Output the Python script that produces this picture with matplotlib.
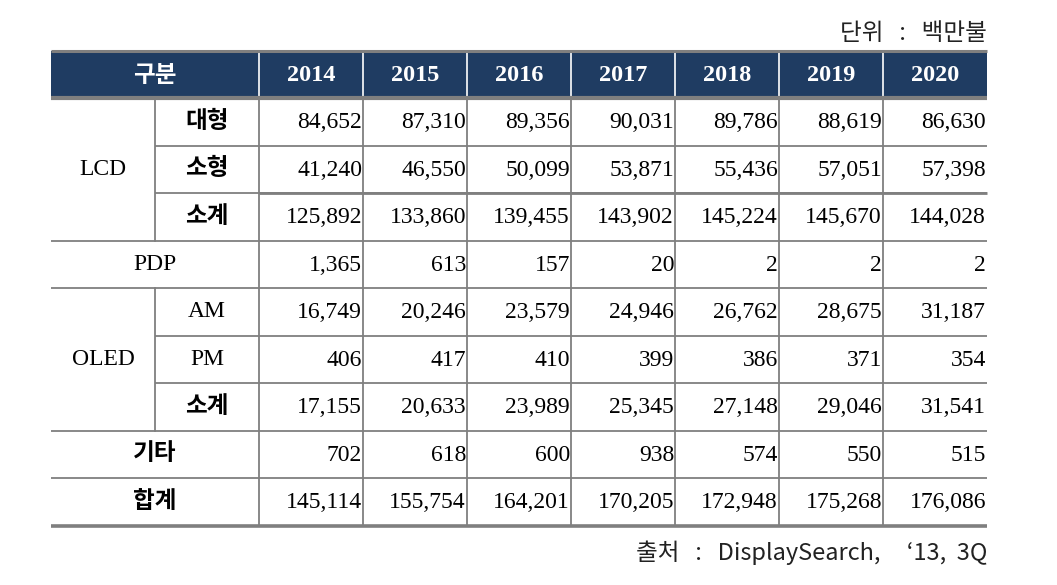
import matplotlib.pyplot as plt

plt.rcParams['font.family'] = ['Liberation Serif', 'Noto Sans CJK KR']

# data (단위: 백만불)
years = ['2014', '2015', '2016', '2017', '2018', '2019', '2020']
lcd_large = [84652, 87310, 89356, 90031, 89786, 88619, 86630]
lcd_small = [41240, 46550, 50099, 53871, 55436, 57051, 57398]
lcd_sub = [125892, 133860, 139455, 143902, 145224, 145670, 144028]
pdp = [1365, 613, 157, 20, 2, 2, 2]
oled_am = [16749, 20246, 23579, 24946, 26762, 28675, 31187]
oled_pm = [406, 417, 410, 399, 386, 371, 354]
oled_sub = [17155, 20633, 23989, 25345, 27148, 29046, 31541]
other = [702, 618, 600, 938, 574, 550, 515]
total = [145114, 155754, 164201, 170205, 172948, 175268, 176086]

rows = [lcd_large, lcd_small, lcd_sub, pdp, oled_am, oled_pm, oled_sub, other, total]

W, H = 1057, 585
fig = plt.figure(figsize=(W / 100, H / 100), dpi=100)
ax = fig.add_axes([0, 0, 1, 1])
ax.set_xlim(0, W)
ax.set_ylim(H, 0)
ax.axis('off')

# layout in pixels
left, c1, c2 = 51, 155, 259
colw = 104
right = c2 + colw * len(years)
top, hdr_bot = 51, 98
rowh = 47.5
ybounds = [hdr_bot + rowh * i for i in range(len(rows) + 1)]
grey = '#7f7f7f'
navy = '#1f3c62'
fs = 17

# header
ax.fill_between([left, right], top, hdr_bot, color=navy, lw=0)
ax.text((left + c2) / 2, (top + hdr_bot) / 2, '구분', color='white', fontsize=fs,
        ha='center', va='center', family='Noto Sans CJK KR', fontweight='bold')
for i, y in enumerate(years):
    x0 = c2 + colw * i
    ax.text(x0 + colw / 2, (top + hdr_bot) / 2 + 1, y, color='white', fontsize=17.5,
            ha='center', va='center', family='Liberation Serif', fontweight='bold')
    ax.plot([x0, x0], [top, hdr_bot], color='white', lw=1.2)
ax.plot([left, right], [top, top], color=grey, lw=2.2, solid_capstyle='butt')
ax.plot([left, right], [hdr_bot, hdr_bot], color=grey, lw=3, solid_capstyle='butt')

# values
for r, vals in enumerate(rows):
    yc = (ybounds[r] + ybounds[r + 1]) / 2
    for i, v in enumerate(vals):
        ax.text(c2 + colw * (i + 1) - 1, yc + 1, f'{v:,}', fontsize=fs,
                ha='right', va='center', color='black')

# labels
def lab(x, r0, r1, s, bold=False):
    yc = (ybounds[r0] + ybounds[r1]) / 2
    ax.text(x, yc, s, fontsize=fs, ha='center', va='center',
            fontweight='bold' if bold else 'normal',
            family=['Liberation Serif', 'Noto Sans CJK KR'])

lab((left + c1) / 2, 0, 3, 'LCD')
lab((c1 + c2) / 2, 0, 1, '대형', True)
lab((c1 + c2) / 2, 1, 2, '소형', True)
lab((c1 + c2) / 2, 2, 3, '소계', True)
lab((left + c2) / 2, 3, 4, 'PDP')
lab((left + c1) / 2, 4, 7, 'OLED')
lab((c1 + c2) / 2, 4, 5, 'AM')
lab((c1 + c2) / 2, 5, 6, 'PM')
lab((c1 + c2) / 2, 6, 7, '소계', True)
lab((left + c2) / 2, 7, 8, '기타', True)
lab((left + c2) / 2, 8, 9, '합계', True)

# grid lines
lw = 1.3
for r in range(1, len(rows)):
    y = ybounds[r]
    x0 = c1 if r in (1, 2, 5, 6) else left
    ax.plot([x0, right], [y, y], color=grey, lw=lw, solid_capstyle='butt')
ax.plot([c2, right], [ybounds[2], ybounds[2]], color=grey, lw=2, solid_capstyle='butt')
ax.plot([left, right], [ybounds[-1], ybounds[-1]], color=grey, lw=2.6, solid_capstyle='butt')
ax.plot([c1, c1], [ybounds[0], ybounds[3]], color=grey, lw=lw)
ax.plot([c1, c1], [ybounds[4], ybounds[7]], color=grey, lw=lw)
for i in range(len(years)):
    x0 = c2 + colw * i
    ax.plot([x0, x0], [hdr_bot, ybounds[-1]], color=grey, lw=lw)

# unit and source
ax.text(right, 34, '단위   :   백만불', fontsize=fs, ha='right', va='center',
        family=['Noto Sans CJK KR'], color='#222222')
ax.text(right, 553, '출처   :   DisplaySearch,     ‘13,  3Q', fontsize=fs, ha='right', va='center',
        family=['Noto Sans CJK KR', 'DejaVu Sans'], color='#222222')

fig.savefig('out.png', dpi=100)
